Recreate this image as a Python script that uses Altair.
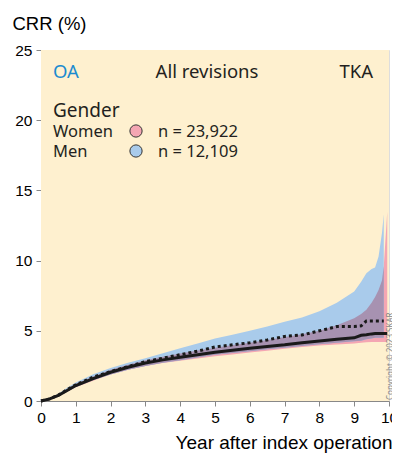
import altair as alt
import pandas as pd
import numpy as np

# ---- data ----
years = [0, 0.25, 0.5, 0.75, 1, 1.5, 2, 2.5, 3, 3.5, 4, 4.5, 5, 5.5, 6, 6.5, 7, 7.5,
         8, 8.5, 9, 9.2, 9.35, 9.5, 9.6, 9.7, 9.8, 9.85, 9.95]

women_est = [0, 0.15, 0.4, 0.75, 1.1, 1.6, 2.05, 2.4, 2.7, 2.93, 3.12, 3.3, 3.47, 3.62, 3.75, 3.88, 4.0, 4.15,
             4.28, 4.4, 4.5, 4.68, 4.72, 4.78, 4.8, 4.8, 4.8, 4.8, 4.8]
women_lo = [0, 0.1, 0.33, 0.65, 0.98, 1.45, 1.88, 2.22, 2.5, 2.7, 2.87, 3.03, 3.18, 3.32, 3.45, 3.58, 3.72, 3.85,
            3.95, 4.03, 4.1, 4.15, 4.18, 4.2, 4.2, 4.2, 4.2, 4.2, 4.2]
women_hi = [0, 0.2, 0.47, 0.85, 1.22, 1.75, 2.22, 2.58, 2.9, 3.15, 3.38, 3.6, 3.8, 3.98, 4.15, 4.35, 4.55, 4.75,
            5.0, 5.4, 5.9, 6.2, 6.5, 7.0, 7.4, 7.9, 8.6, 9.6, 13.5]

men_est = [0, 0.15, 0.42, 0.8, 1.15, 1.7, 2.1, 2.45, 2.8, 3.05, 3.3, 3.55, 3.85, 4.0, 4.15, 4.35, 4.6, 4.7,
           5.0, 5.3, 5.3, 5.35, 5.7, 5.7, 5.7, 5.7, 5.7, 5.7, None]
men_lo = [0, 0.1, 0.33, 0.68, 1.0, 1.5, 1.88, 2.22, 2.5, 2.72, 2.9, 3.1, 3.3, 3.42, 3.55, 3.68, 3.8, 3.92,
          4.05, 4.15, 4.25, 4.3, 4.4, 4.45, 4.5, 4.5, 4.5, 4.5, None]
men_hi = [0, 0.22, 0.52, 0.95, 1.32, 1.9, 2.35, 2.72, 3.05, 3.4, 3.75, 4.1, 4.45, 4.72, 5.0, 5.3, 5.65, 5.95,
          6.4, 7.0, 7.8, 8.5, 9.1, 9.4, 9.5, 10.3, 12.0, 13.3, None]

y_ticks = [0, 5, 10, 15, 20, 25]
x_ticks = list(range(0, 11))

header_texts = ["OA", "All revisions", "TKA"]
legend_title = "Gender"
legend_labels = ["Women", "Men"]
legend_n = ["n = 23,922", "n = 12,109"]
copyright_text = "Copyright © 2023 SKAR"

# ---- styles ----
BG = "#FEF0CF"
PINK = "#F4A6B3"
BLUE = "#A9CBEB"
PURPLE = "#A792B1"
FONT = "Noto Sans"
INK = "#231f20"

W, H = 348, 351

women = pd.DataFrame({"year": years, "est": women_est, "lo": women_lo, "hi": women_hi})
men = pd.DataFrame({"year": years, "est": men_est, "lo": men_lo, "hi": men_hi}).dropna()
ov = men.copy()
wmap = women.set_index("year")
ov["olo"] = np.maximum(ov["lo"].values, wmap.loc[ov["year"], "lo"].values)
ov["ohi"] = np.minimum(ov["hi"].values, wmap.loc[ov["year"], "hi"].values)

xs = alt.Scale(domain=[0, 10], nice=False)
ys = alt.Scale(domain=[0, 25], nice=False)

xax = alt.Axis(values=x_ticks, title="Year after index operation", grid=False, labelOverlap=False,
               titleAnchor="end", titleAlign="right", titleX=351, titleY=47,
               titleBaseline="alphabetic", titleFontSize=19, titleFontWeight="normal",
               labelFontSize=15.5, labelPadding=4, tickSize=5, labelFlush=False)
yax = alt.Axis(values=y_ticks, title="CRR (%)", grid=False, labelOverlap=False,
               titleAngle=0, titleAlign="left", titleX=-29, titleY=-21,
               titleBaseline="alphabetic", titleFontSize=18.5, titleFontWeight="normal",
               labelFontSize=15.5, labelPadding=4, tickSize=5, labelFlush=False)

def X():
    return alt.X("year:Q", scale=xs, axis=xax)

def Y(f):
    return alt.Y(f, type="quantitative", scale=ys, axis=yax)

one = pd.DataFrame({"a": [0]})
bg = alt.Chart(one).mark_rect(color=BG).encode(
    x=alt.value(0), x2=alt.value(W), y=alt.value(0), y2=alt.value(H))

base_w = alt.Chart(women)
base_m = alt.Chart(men)

pink = base_w.mark_area(color=PINK, opacity=1).encode(x=X(), y=Y("lo"), y2="hi:Q")
blue = base_m.mark_area(color=BLUE, opacity=1).encode(x=X(), y=Y("lo"), y2="hi:Q")
purple = alt.Chart(ov).mark_area(color=PURPLE, opacity=1).encode(x=X(), y=Y("olo"), y2="ohi:Q")
wline = base_w.mark_line(color="#1a1a1a", strokeWidth=3).encode(x=X(), y=Y("est"))
mline = base_m.mark_line(color="#1a1a1a", strokeWidth=3, strokeDash=[3, 3]).encode(x=X(), y=Y("est"))

def txt(s, x, y, align="left", color=INK, size=17, angle=0):
    return alt.Chart(pd.DataFrame({"t": [s]})).mark_text(
        align=align, baseline="alphabetic", fontSize=size, color=color, font=FONT, angle=angle
    ).encode(text="t:N", x=alt.value(x), y=alt.value(y))

def dot(c, y):
    return alt.Chart(one).mark_point(
        filled=True, size=150, fill=c, stroke="#333333", strokeWidth=1, opacity=1
    ).encode(x=alt.value(95), y=alt.value(y))

texts = [
    txt(header_texts[0], 12, 28, color="#1B8BCF", size=18.5),
    txt(header_texts[1], 166, 28, align="center", size=18.5),
    txt(header_texts[2], 332, 28, align="right", size=18.5),
    txt(legend_title, 12, 67, size=19),
    txt(legend_labels[0], 12, 87, size=16.5),
    txt(legend_labels[1], 12, 107, size=16.5),
    txt(legend_n[0], 117, 87, size=16.5),
    txt(legend_n[1], 117, 107, size=16.5),
    txt(copyright_text, 352, 350, size=8, color="#888888", angle=270),
]

chart = alt.layer(bg, pink, blue, purple, wline, mline, dot(PINK, 81), dot(BLUE, 101), *texts).properties(
    width=W, height=H, autosize=alt.AutoSizeParams(type="none"),
    padding={"left": 33, "top": 42, "right": 3, "bottom": 52}
).configure_view(stroke="#333333", strokeWidth=1.5).configure_axis(
    domainColor="#333333", domainWidth=1.5, tickColor="#333333", tickWidth=1.5,
    labelColor=INK, titleColor=INK, labelFont=FONT, titleFont=FONT
).configure(background="white")

chart.save("out.html", embed_options={"renderer": "svg", "actions": False})
